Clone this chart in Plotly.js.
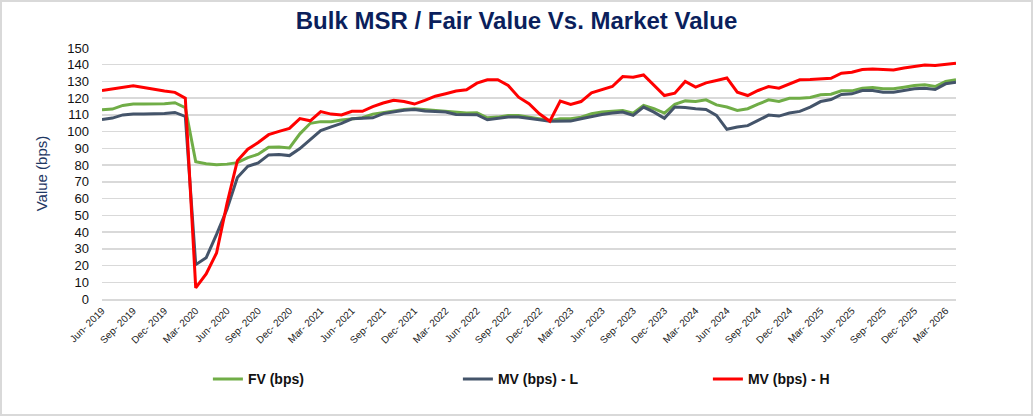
<!DOCTYPE html>
<html>
<head>
<meta charset="utf-8">
<script src="https://cdn.plot.ly/plotly-3.0.1.min.js"></script>
<style>
  body { margin: 0; background: #fff; }
  #myDiv { width: 1033px; height: 416px; }
  #frame { position: absolute; left: 0; top: 0; width: 1029px; height: 412px; border: 2px solid #d9d9d9; pointer-events: none; }
</style>
</head>
<body>
<div id="myDiv"></div>
<div id="frame"></div>
<script>
// months, Jun-2019 .. Apr-2026
months = [
  'Jun- 2019','Jul- 2019','Aug- 2019','Sep- 2019','Oct- 2019','Nov- 2019','Dec- 2019',
  'Jan- 2020','Feb- 2020','Mar- 2020','Apr- 2020','May- 2020','Jun- 2020','Jul- 2020','Aug- 2020','Sep- 2020','Oct- 2020','Nov- 2020','Dec- 2020',
  'Jan- 2021','Feb- 2021','Mar- 2021','Apr- 2021','May- 2021','Jun- 2021','Jul- 2021','Aug- 2021','Sep- 2021','Oct- 2021','Nov- 2021','Dec- 2021',
  'Jan- 2022','Feb- 2022','Mar- 2022','Apr- 2022','May- 2022','Jun- 2022','Jul- 2022','Aug- 2022','Sep- 2022','Oct- 2022','Nov- 2022','Dec- 2022',
  'Jan- 2023','Feb- 2023','Mar- 2023','Apr- 2023','May- 2023','Jun- 2023','Jul- 2023','Aug- 2023','Sep- 2023','Oct- 2023','Nov- 2023','Dec- 2023',
  'Jan- 2024','Feb- 2024','Mar- 2024','Apr- 2024','May- 2024','Jun- 2024','Jul- 2024','Aug- 2024','Sep- 2024','Oct- 2024','Nov- 2024','Dec- 2024',
  'Jan- 2025','Feb- 2025','Mar- 2025','Apr- 2025','May- 2025','Jun- 2025','Jul- 2025','Aug- 2025','Sep- 2025','Oct- 2025','Nov- 2025','Dec- 2025',
  'Jan- 2026','Feb- 2026','Mar- 2026','Apr- 2026'
];

// quarterly tick labels shown on the axis
tickLabels = [
  'Jun- 2019','Sep- 2019','Dec- 2019','Mar- 2020','Jun- 2020','Sep- 2020','Dec- 2020',
  'Mar- 2021','Jun- 2021','Sep- 2021','Dec- 2021','Mar- 2022','Jun- 2022','Sep- 2022','Dec- 2022',
  'Mar- 2023','Jun- 2023','Sep- 2023','Dec- 2023','Mar- 2024','Jun- 2024','Sep- 2024','Dec- 2024',
  'Mar- 2025','Jun- 2025','Sep- 2025','Dec- 2025','Mar- 2026'
];

fv = [
  113.1,113.5,115.7,116.5,116.5,116.5,116.7,117.3,114.3,
  82,80.8,80.2,80.6,81.5,84.5,86.5,90.7,90.8,90.3,
  98.7,105,106,106,107,107.8,108.3,110.5,111.5,112.5,113.2,113.7,
  113.1,112.8,112.3,111.7,111.1,111.3,108.3,108.7,109.7,109.7,108.7,107.7,
  106.7,107.7,107.7,108.7,110.7,111.7,112.3,112.7,111.1,115.7,113.7,111.1,
  116.3,118.4,118,119,116,114.7,112.7,113.7,116.4,119,118,120,
  120,120.4,122,122.4,124.4,124.4,126,126.4,125.6,125.6,126.6,127.6,
  128,127,130,131
];

mvLow = [
  107.3,108.1,110,110.5,110.5,110.5,110.9,111.5,109.1,
  20.5,24.6,38.6,53.6,72.6,79.3,81.3,86.1,86.3,85.7,
  89.9,95.3,100.6,102.9,105,107.7,108,108.3,110.8,112,112.8,113.2,
  112.3,112.1,111.7,110.3,110.1,110.1,107.1,107.7,108.7,108.7,107.7,107.1,
  106.2,106.2,106.3,107.7,109.1,110.3,111.1,111.7,109.7,114.7,111.7,108,
  114.7,114.5,113.7,113.3,109.7,101.4,102.8,103.6,106.7,109.9,109.3,111.1,
  112.1,114.7,118,119.2,122.2,122.6,124.6,124.6,123.6,123.6,124.6,125.6,
  126,125.2,128.6,129.6
];

mvHigh = [
  124.6,125.5,126.4,127.4,126.4,125.2,124.3,123.5,120,
  6.6,15,27.5,57,82.7,89.5,93.5,98.2,100.2,102,
  107.8,106.5,112,110.5,110,112.2,112.2,115,117.1,118.8,118,116.5,
  118.7,121.2,122.7,124.3,125,129,131,131,127.6,120.6,116.7,110.7,
  106.2,118.3,116.3,118,123.2,125.2,127,132.9,132.5,133.9,127.6,121.6,
  123,130,126.6,129.2,130.6,132.1,123.6,121.6,124.6,127,126,128.6,
  131,131.2,131.5,131.9,134.9,135.5,137.1,137.5,137.2,136.9,138.1,139.1,
  139.9,139.5,140.2,140.9
];

trace1 = {
  x: months,
  y: fv,
  type: 'scatter',
  mode: 'lines',
  name: 'FV (bps)',
  line: {color: '#70AD47', width: 3}
};
trace2 = {
  x: months,
  y: mvLow,
  type: 'scatter',
  mode: 'lines',
  name: 'MV (bps) - L',
  line: {color: '#44546A', width: 3}
};
trace3 = {
  x: months,
  y: mvHigh,
  type: 'scatter',
  mode: 'lines',
  name: 'MV (bps) - H',
  line: {color: '#FF0000', width: 3}
};

layout = {
  width: 1033,
  height: 416,
  margin: {l: 102, r: 77, t: 48, b: 117},
  paper_bgcolor: '#fff',
  plot_bgcolor: '#fff',
  showlegend: true,
  title: {
    text: 'Bulk MSR / Fair Value Vs. Market Value',
    font: {family: 'Liberation Sans Narrow, Arial Narrow, Liberation Sans, sans-serif', size: 24, color: '#0B1F5C', weight: 'bold'},
    x: 0.5,
    xanchor: 'center',
    y: 0.95,
    yanchor: 'middle'
  },
  xaxis: {
    type: 'category',
    range: [0, 82],
    tickmode: 'array',
    tickvals: tickLabels,
    ticktext: tickLabels,
    tickangle: -45,
    tickfont: {family: 'Liberation Sans, Arial, sans-serif', size: 10, color: '#222'},
    showgrid: false,
    showline: true,
    linecolor: '#d9d9d9',
    linewidth: 2,
    ticks: '',
    zeroline: false
  },
  yaxis: {
    range: [0, 150],
    dtick: 10,
    tick0: 0,
    showgrid: true,
    gridcolor: '#d9d9d9',
    gridwidth: 1.5,
    zeroline: false,
    ticks: '',
    ticklabelstandoff: 12,
    tickfont: {family: 'Liberation Sans, Arial, sans-serif', size: 13, color: '#111'},
    title: {
      text: 'Value (bps)',
      font: {family: 'Liberation Sans, Arial, sans-serif', size: 15, color: '#1F3864'},
      standoff: 16
    }
  },
  legend: {
    orientation: 'h',
    x: 0.124,
    xanchor: 'left',
    y: -0.32,
    yanchor: 'middle',
    entrywidth: 205,
    entrywidthmode: 'pixels',
    font: {family: 'Liberation Sans Narrow, Arial Narrow, Liberation Sans, sans-serif', size: 14, color: '#111', weight: 'bold'}
  }
};

data = [trace1, trace2, trace3];
Plotly.newPlot('myDiv', data, layout, {displayModeBar: false, staticPlot: true});
</script>
</body>
</html>
